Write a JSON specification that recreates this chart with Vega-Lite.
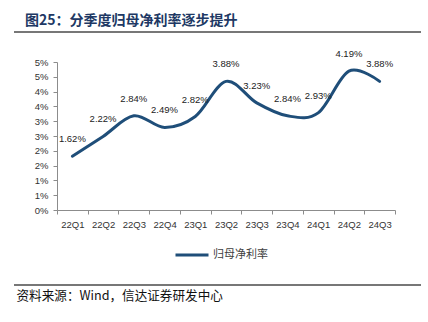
{
  "$schema": "https://vega.github.io/schema/vega-lite/v6.json",
  "autosize": {"type": "none"},
  "width": 407,
  "height": 253,
  "padding": {"left": 14, "top": 32, "right": 7, "bottom": 37},
  "background": "white",
  "config": {
    "view": {"stroke": "#777777", "strokeWidth": 2, "strokeDash": [407, 253]},
    "axis": {"labelFont": "Liberation Sans", "labelFontSize": 9.5, "labelColor": "#333333", "domainColor": "#8c8c8c", "tickColor": "#8c8c8c", "tickSize": 4, "grid": false}
  },
  "title": {
    "text": "图25：分季度归母净利率逐步提升",
    "anchor": "start",
    "frame": "group",
    "offset": 4,
    "dx": 11,
    "font": "Noto Sans CJK SC",
    "fontSize": 14,
    "fontWeight": "bold",
    "color": "#203864"
  },
  "data": {
    "values": [
      {"q": "22Q1", "v": 0.0162},
      {"q": "22Q2", "v": 0.0222},
      {"q": "22Q3", "v": 0.0284},
      {"q": "22Q4", "v": 0.0249},
      {"q": "23Q1", "v": 0.0282},
      {"q": "23Q2", "v": 0.0388},
      {"q": "23Q3", "v": 0.0323},
      {"q": "23Q4", "v": 0.0284},
      {"q": "24Q1", "v": 0.0293},
      {"q": "24Q2", "v": 0.0419},
      {"q": "24Q3", "v": 0.0388}
    ]
  },
  "encoding": {
    "x": {
      "field": "q",
      "type": "ordinal",
      "sort": null,
      "bandPosition": 0.5,
      "scale": {"type": "band", "range": [43, 381], "paddingInner": 0, "paddingOuter": 0},
      "axis": {
        "offset": -75,
        "labelAngle": 0,
        "labelPadding": 5,
        "tickBand": "extent",
        "title": "资料来源：Wind，信达证券研发中心",
        "titleFont": "Noto Sans CJK SC",
        "titleFontSize": 12.6,
        "titleFontWeight": "normal",
        "titleColor": "#111111",
        "titleAnchor": "start",
        "titleAlign": "left",
        "titleBaseline": "middle",
        "titleX": 2,
        "titleY": 85
      }
    }
  },
  "layer": [
    {
      "mark": {"type": "point", "opacity": 0},
      "encoding": {
        "y": {
          "field": "v",
          "type": "quantitative",
          "scale": {"domain": [0, 0.05], "range": [178, 30], "nice": false, "zero": true},
          "axis": {
            "offset": -43,
            "values": [0, 0.005, 0.01, 0.015, 0.02, 0.025, 0.03, 0.035, 0.04, 0.045, 0.05],
            "labelExpr": "round(datum.value * 100 + 0.000001) + '%'",
            "labelPadding": 5,
            "title": null
          }
        }
      }
    },
    {
      "layer": [
        {
          "mark": {"type": "line", "interpolate": "cardinal", "strokeWidth": 3, "strokeCap": "round"},
          "encoding": {
            "y": {"field": "v", "type": "quantitative", "scale": {"domain": [0, 0.04464], "range": [178, 30], "nice": false}, "axis": null},
            "color": {
              "datum": "归母净利率",
              "type": "nominal",
              "scale": {"range": ["#1F4E79"]},
              "legend": {
                "title": null,
                "orient": "none",
                "legendX": 160,
                "legendY": 205,
                "symbolType": "stroke",
                "symbolSize": 1089,
                "symbolStrokeWidth": 3,
                "labelFont": "Noto Sans CJK SC",
                "labelFontSize": 11,
                "labelColor": "#404040",
                "labelOffset": 3
              }
            }
          }
        },
        {
          "mark": {"type": "text", "dy": -17, "align": "center", "baseline": "middle", "font": "Liberation Sans", "fontSize": 9.5, "color": "#222222"},
          "encoding": {
            "y": {"field": "v", "type": "quantitative", "scale": {"domain": [0, 0.04464], "range": [178, 30], "nice": false}, "axis": null},
            "text": {"field": "v", "type": "quantitative", "format": ".2%"}
          }
        }
      ]
    }
  ],
  "resolve": {"scale": {"y": "independent"}, "axis": {"y": "independent"}}
}
